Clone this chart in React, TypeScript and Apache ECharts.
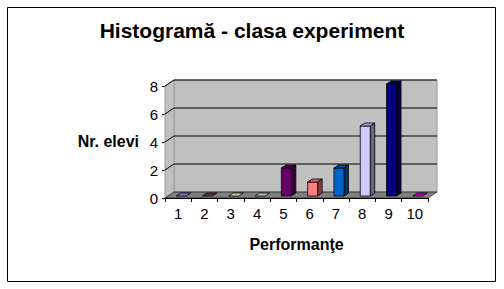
import React, { useEffect, useRef } from "react";
import * as echarts from "echarts";

const categories = ["1", "2", "3", "4", "5", "6", "7", "8", "9", "10"];
const values = [0, 0, 0, 0, 2, 1, 2, 5, 8, 0];
const barColors = ["#9999FF", "#993366", "#FFFFCC", "#CCFFFF", "#660066", "#FF8080", "#0066CC", "#CCCCFF", "#000080", "#FF00FF"];
const yTicks = [0, 2, 4, 6, 8];
const titleText = "Histogramă - clasa experiment";
const xName = "Performanţe";
const yName = "Nr. elevi";

const FONT = "'Liberation Sans', Arial, sans-serif";
const DX = 9, DY = -6; // wall depth
const FX = 3, FY = -2; // bar front offset
const SX = 4.5, SY = -3; // bar depth

function shade(hex: string, f: number) {
  const n = parseInt(hex.slice(1), 16);
  const r = Math.round(((n >> 16) & 255) * f);
  const g = Math.round(((n >> 8) & 255) * f);
  const b = Math.round((n & 255) * f);
  return `rgb(${r},${g},${b})`;
}

export default function App() {
  const ref = useRef<HTMLDivElement>(null);
  useEffect(() => {
    if (!ref.current) return;
    const chart = echarts.init(ref.current, undefined, { renderer: "svg" });
    const option: any = {
      animation: false,
      backgroundColor: "#fff",
      title: {
        text: titleText,
        left: "center",
        top: 20,
        padding: 0,
        textStyle: { fontFamily: FONT, fontSize: 21, fontWeight: "bold", color: "#000" },
      },
      grid: { left: 165, top: 86, width: 263, height: 112 },
      xAxis: {
        type: "category",
        data: categories,
        axisLine: { show: true, lineStyle: { color: "#000", width: 1 } },
        axisTick: { show: true, length: 4, lineStyle: { color: "#000" } },
        axisLabel: { fontFamily: FONT, fontSize: 15, color: "#000", margin: 8 },
        name: xName,
        nameLocation: "middle",
        nameGap: 38,
        nameTextStyle: { fontFamily: FONT, fontSize: 16, fontWeight: "bold", color: "#000" },
      },
      yAxis: {
        type: "value",
        min: 0,
        max: 8,
        interval: 2,
        axisLine: { show: true, lineStyle: { color: "#000", width: 1 } },
        axisTick: { show: true, length: 3, lineStyle: { color: "#000" } },
        axisLabel: { fontFamily: FONT, fontSize: 15, color: "#000", margin: 7 },
        splitLine: { show: false },
      },
      graphic: [
        {
          type: "rect",
          shape: { x: 7.5, y: 7.5, width: 488, height: 274 },
          style: { fill: "none", stroke: "#000", lineWidth: 1 },
          z: 100,
        },
        {
          type: "text",
          x: 139,
          y: 141,
          style: {
            text: yName,
            fontFamily: FONT,
            fontSize: 16,
            fontWeight: "bold",
            fill: "#000",
            align: "right",
            verticalAlign: "middle",
          },
        },
      ],
      series: [
        {
          type: "custom",
          silent: true,
          z: 1,
          data: [[0]],
          renderItem: (params: any, api: any) => {
            const cs = params.coordSys;
            const x0 = cs.x, x1 = cs.x + cs.width;
            const yb = api.coord([0, 0])[1];
            const yt = api.coord([0, 8])[1];
            const children: any[] = [];
            children.push({
              type: "polygon",
              shape: { points: [[x0 + DX, yt + DY], [x1 + DX, yt + DY], [x1 + DX, yb + DY], [x0 + DX, yb + DY]] },
              style: { fill: "#C0C0C0", stroke: "#9a9a9a", lineWidth: 1 },
            });
            children.push({
              type: "polygon",
              shape: { points: [[x0, yt], [x0 + DX, yt + DY], [x0 + DX, yb + DY], [x0, yb]] },
              style: { fill: "#C0C0C0", stroke: "#9a9a9a", lineWidth: 1 },
            });
            children.push({
              type: "polygon",
              shape: { points: [[x0, yb], [x1, yb], [x1 + DX, yb + DY], [x0 + DX, yb + DY]] },
              style: { fill: "#808080", stroke: "#000", lineWidth: 0.6 },
            });
            yTicks.forEach((t) => {
              if (t === 0) return;
              const y = api.coord([0, t])[1];
              children.push({
                type: "polyline",
                shape: { points: [[x0, y], [x0 + DX, y + DY], [x1 + DX, y + DY]] },
                style: { fill: "none", stroke: "#000", lineWidth: 1 },
              });
            });
            return { type: "group", children };
          },
        },
        {
          type: "custom",
          silent: true,
          z: 3,
          data: values.map((v, i) => [i, v]),
          renderItem: (params: any, api: any) => {
            const i = api.value(0);
            const v = api.value(1);
            const top = api.coord([i, v]);
            const base = api.coord([i, 0]);
            const catW = api.size([1, 0])[0];
            const w = catW * 0.38;
            const l = top[0] - w / 2 + FX;
            const r = l + w;
            const t = top[1] + FY;
            const b = base[1] + FY;
            const c = barColors[i];
            const children: any[] = [];
            if (b - t > 0.5) {
              children.push({
                type: "polygon",
                shape: { points: [[r, t], [r + SX, t + SY], [r + SX, b + SY], [r, b]] },
                style: { fill: shade(c, 0.5), stroke: "#000", lineWidth: 0.8 },
              });
              children.push({
                type: "rect",
                shape: { x: l, y: t, width: w, height: b - t },
                style: { fill: c, stroke: "#000", lineWidth: 0.8 },
              });
            }
            children.push({
              type: "polygon",
              shape: { points: [[l, t], [r, t], [r + SX, t + SY], [l + SX, t + SY]] },
              style: { fill: shade(c, 0.8), stroke: "#000", lineWidth: 0.8 },
            });
            return { type: "group", children };
          },
        },
      ],
    };
    chart.setOption(option);
    return () => chart.dispose();
  }, []);
  return (
    <div
      ref={ref}
      style={{ position: "absolute", left: 0, top: 0, width: 504, height: 289, background: "#fff" }}
    />
  );
}
